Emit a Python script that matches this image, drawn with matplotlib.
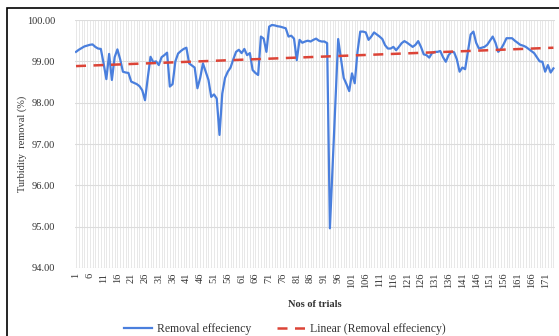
import numpy as np
import matplotlib
matplotlib.use("Agg")
import matplotlib.pyplot as plt
from matplotlib.patches import Rectangle

# Removal efficiency per trial
removal = [
    99.23, 99.28, 99.32, 99.36, 99.38, 99.40, 99.41, 99.35, 99.31, 99.30,
    98.95, 98.57, 99.18, 98.55, 99.10, 99.29, 99.05, 98.75, 98.73, 98.72,
    98.51, 98.48, 98.45, 98.40, 98.30, 98.06, 98.60, 99.11, 98.98, 99.00,
    98.91, 99.10, 99.15, 99.21, 98.39, 98.45, 99.00, 99.19, 99.25, 99.30,
    99.33, 98.95, 98.90, 98.85, 98.35, 98.60, 98.95, 98.75, 98.55, 98.14,
    98.20, 98.10, 97.22, 98.22, 98.60, 98.75, 98.85, 99.05, 99.23, 99.28,
    99.20, 99.30, 99.15, 99.20, 98.79, 98.72, 98.67, 99.60, 99.55, 99.23,
    99.84, 99.88, 99.87, 99.85, 99.84, 99.82, 99.80, 99.60, 99.62, 99.55,
    99.03, 99.52, 99.45, 99.48, 99.50, 99.48, 99.52, 99.55, 99.50, 99.48,
    99.48, 99.44, 94.96, 96.50, 98.10, 99.54, 99.07, 98.60, 98.45, 98.28,
    98.71, 98.47, 99.23, 99.72, 99.72, 99.70, 99.52, 99.60, 99.70, 99.65,
    99.60, 99.54, 99.39, 99.31, 99.31, 99.35, 99.27, 99.35, 99.44, 99.49,
    99.45, 99.40, 99.35, 99.40, 99.49, 99.35, 99.17, 99.15, 99.09, 99.20,
    99.23, 99.23, 99.25, 99.10, 98.99, 99.15, 99.23, 99.22, 99.05, 98.75,
    98.85, 98.81, 99.23, 99.65, 99.72, 99.45, 99.31, 99.33, 99.35, 99.40,
    99.50, 99.60, 99.45, 99.23, 99.30, 99.42, 99.56, 99.56, 99.56, 99.50,
    99.45, 99.40, 99.38, 99.35, 99.30, 99.25, 99.20, 99.10, 99.00, 98.99,
    98.75, 98.91, 98.73, 98.83,
]
trials = np.arange(1, len(removal) + 1)
y_ticks = [94, 95, 96, 97, 98, 99, 100]
x_ticks = list(range(1, 172, 5))

# linear trend line, like the spreadsheet one
coef = np.polyfit(trials, removal, 1)
trend = np.polyval(coef, trials)

plt.rcParams['font.family'] = ['Liberation Serif', 'DejaVu Serif']

fig = plt.figure(figsize=(5.59, 3.36), dpi=100)
ax = fig.add_axes([0.1335, 0.2024, 0.859, 0.738])

ax.plot(trials, removal, color='#4a7fdd', lw=1.6, label='Removal effeciency', zorder=3)
ax.plot(trials, trend, color='#dc4437', lw=1.8, ls=(0, (4, 3)),
        label='Linear (Removal effeciency)', zorder=4)

ax.set_xlim(0.5, len(removal) + 0.5)
ax.set_ylim(94, 100)
ax.set_yticks(y_ticks)
ax.set_yticklabels(['%.2f' % v for v in y_ticks])
ax.set_xticks(x_ticks)
ax.set_xticklabels([str(v) for v in x_ticks], rotation=90)
ax.set_xticks(trials, minor=True)

ax.grid(axis='y', color='#dcdcdc', lw=0.8)
ax.grid(axis='x', which='both', color='#e4e4e4', lw=0.6)
ax.set_axisbelow(True)
ax.tick_params(length=0, which='both', labelsize=7.5, colors='#333333')
ax.tick_params(axis='y', pad=14)
for sp in ax.spines.values():
    sp.set_visible(False)

ax.set_ylabel('Turbidity  removal (%)', fontsize=7.5, color='#333333', labelpad=0)
ax.set_xlabel('Nos of trials', fontsize=7.5, color='#333333', fontweight='bold', labelpad=8)

fig.legend(loc='lower center', bbox_to_anchor=(0.51, -0.03), ncol=2, frameon=False,
           fontsize=8.5, handlelength=2.4, columnspacing=2.2, handletextpad=0.4,
           labelcolor='#333333')

# outer frame
fig.patches.append(Rectangle((7 / 559, -0.01), 1.05, 1 - 8 / 336 + 0.01,
                             transform=fig.transFigure, fill=False,
                             edgecolor='black', lw=1.2))

fig.savefig('out.png', dpi=100)
